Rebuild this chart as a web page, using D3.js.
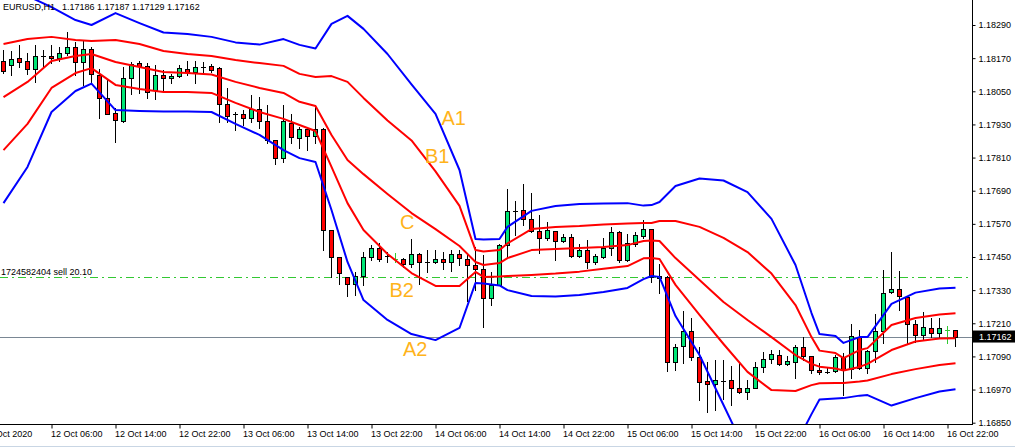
<!DOCTYPE html>
<html><head><meta charset="utf-8">
<script src="https://cdn.jsdelivr.net/npm/d3@7"></script>
<style>html,body{margin:0;padding:0;background:#fff;}svg{display:block;}</style>
</head><body><svg id="chart" width="1015" height="448"></svg>
<script>
// ---------- data ----------
const symbolTitle = "EURUSD,H1";
const lastQuote = "1.17186 1.17187 1.17129 1.17162";
const barOpen = [1.18160,1.18144,1.18169,1.18160,1.18129,1.18178,1.18178,1.18169,1.18189,1.18210,
1.18157,1.18202,1.18109,1.18026,1.17970,1.17941,1.18097,1.18151,1.18143,1.18055,
1.18109,1.18097,1.18105,1.18131,1.18121,1.18139,1.18142,1.18133,1.18004,1.17967,
1.17967,1.17952,1.17985,1.17944,1.17872,1.17807,1.17934,1.17880,1.17912,1.17888,
1.17912,1.17548,1.17449,1.17379,1.17351,1.17381,1.17451,1.17481,1.17453,1.17442,
1.17442,1.17424,1.17460,1.17433,1.17433,1.17442,1.17431,1.17460,1.17442,1.17420,
1.17407,1.17303,1.17349,1.17493,1.17617,1.17620,1.17586,1.17545,1.17518,1.17544,
1.17509,1.17521,1.17455,1.17475,1.17431,1.17449,1.17481,1.17539,1.17439,1.17497,
1.17527,1.17550,1.17373,1.17379,1.17069,1.17128,1.17183,1.17089,1.17001,1.16990,
1.17002,1.17005,1.16977,1.16960,1.16977,1.17053,1.17080,1.17094,1.17061,1.17069,
1.17125,1.17093,1.17040,1.17035,1.17037,1.17089,1.17043,1.17161,1.17049,1.17110,
1.17183,1.17322,1.17333,1.17304,1.17207,1.17166,1.17192,1.17174,1.17186,1.17186];
const barHigh = [1.18199,1.18196,1.18218,1.18188,1.18218,1.18201,1.18218,1.18209,1.18266,1.18230,
1.18232,1.18211,1.18130,1.18093,1.17988,1.18139,1.18157,1.18160,1.18152,1.18145,
1.18127,1.18113,1.18145,1.18160,1.18160,1.18157,1.18149,1.18139,1.18062,1.17975,
1.17982,1.18037,1.18030,1.18000,1.17874,1.18000,1.17968,1.17922,1.17922,1.17994,
1.17917,1.17548,1.17449,1.17379,1.17396,1.17468,1.17493,1.17499,1.17469,1.17466,
1.17445,1.17514,1.17463,1.17475,1.17475,1.17469,1.17475,1.17477,1.17463,1.17486,
1.17457,1.17397,1.17497,1.17696,1.17653,1.17713,1.17683,1.17602,1.17576,1.17545,
1.17533,1.17532,1.17497,1.17511,1.17461,1.17518,1.17560,1.17544,1.17532,1.17541,
1.17584,1.17551,1.17426,1.17381,1.17134,1.17255,1.17228,1.17125,1.17071,1.17077,
1.17077,1.17055,1.17071,1.17005,1.17069,1.17105,1.17113,1.17113,1.17091,1.17131,
1.17161,1.17093,1.17065,1.17047,1.17095,1.17103,1.17207,1.17186,1.17113,1.17244,
1.17403,1.17469,1.17400,1.17304,1.17222,1.17252,1.17228,1.17228,1.17201,1.17187];
const barLow = [1.18118,1.18109,1.18139,1.18113,1.18085,1.18139,1.18151,1.18160,1.18180,1.18109,
1.18073,1.18076,1.17952,1.17968,1.17867,1.17940,1.18040,1.18044,1.18026,1.18022,
1.18052,1.18080,1.18102,1.18109,1.18080,1.18121,1.18121,1.17940,1.17940,1.17910,
1.17928,1.17940,1.17916,1.17863,1.17787,1.17795,1.17862,1.17845,1.17837,1.17863,
1.17475,1.17379,1.17352,1.17307,1.17314,1.17350,1.17439,1.17435,1.17431,1.17433,
1.17415,1.17415,1.17354,1.17394,1.17427,1.17405,1.17400,1.17421,1.17292,1.17330,
1.17198,1.17276,1.17347,1.17449,1.17530,1.17566,1.17541,1.17463,1.17511,1.17439,
1.17505,1.17451,1.17449,1.17409,1.17425,1.17447,1.17457,1.17431,1.17437,1.17490,
1.17518,1.17361,1.17319,1.17038,1.17041,1.17065,1.17077,1.16932,1.16890,1.16896,
1.16935,1.16914,1.16956,1.16935,1.16975,1.17032,1.17065,1.17059,1.17059,1.17011,
1.17077,1.17029,1.17025,1.17029,1.17035,1.16950,1.17011,1.17043,1.17031,1.17071,
1.17137,1.17320,1.17258,1.17140,1.17143,1.17149,1.17161,1.17159,1.17137,1.17129];
const barClose = [1.18125,1.18166,1.18157,1.18129,1.18178,1.18178,1.18169,1.18189,1.18210,1.18157,
1.18202,1.18111,1.18027,1.17969,1.17945,1.18097,1.18148,1.18143,1.18048,1.18109,
1.18097,1.18105,1.18133,1.18121,1.18139,1.18139,1.18127,1.18004,1.17961,1.17967,
1.17952,1.17985,1.17944,1.17872,1.17807,1.17944,1.17886,1.17912,1.17888,1.17912,
1.17548,1.17449,1.17391,1.17351,1.17381,1.17451,1.17481,1.17442,1.17453,1.17442,
1.17424,1.17460,1.17433,1.17433,1.17442,1.17431,1.17460,1.17445,1.17421,1.17407,
1.17303,1.17347,1.17493,1.17617,1.17617,1.17586,1.17545,1.17518,1.17548,1.17509,
1.17521,1.17455,1.17475,1.17431,1.17454,1.17481,1.17539,1.17439,1.17500,1.17530,
1.17550,1.17376,1.17381,1.17071,1.17125,1.17183,1.17087,1.16998,1.16990,1.17005,
1.17002,1.16977,1.16960,1.16977,1.17053,1.17080,1.17098,1.17061,1.17072,1.17125,
1.17091,1.17041,1.17032,1.17035,1.17089,1.17041,1.17165,1.17047,1.17110,1.17183,
1.17319,1.17333,1.17309,1.17207,1.17166,1.17195,1.17174,1.17192,1.17186,1.17162];
const greenDojiBars = [49, 118];

const bandBars = [0,3,6,9,11,14,17,20,23,26,29,32,35,37,39,41,43,45,48,51,54,57,59,60,62,63,66,69,72,75,78,80,81,82,84,87,90,93,96,99,101,102,104,105,107,108,111,114,117,119];
const outerUpper = [1.18413,1.18395,1.18355,1.18308,1.18290,1.18333,1.18297,1.18263,1.18257,1.18247,
1.18227,1.18219,1.18239,1.18218,1.18205,1.18294,1.18323,1.18276,1.18185,1.18075,
1.17968,1.17765,1.17515,1.17513,1.17515,1.17559,1.17617,1.17635,1.17642,1.17644,
1.17645,1.17636,1.17638,1.17649,1.17707,1.17734,1.17727,1.17685,1.17588,1.17421,
1.17247,1.17171,1.17164,1.17139,1.17160,1.17160,1.17280,1.17321,1.17336,1.17339];
const innerUpper = [1.18221,1.18239,1.18247,1.18236,1.18232,1.18236,1.18221,1.18196,1.18185,1.18178,
1.18163,1.18152,1.18142,1.18113,1.18102,1.18105,1.18084,1.18026,1.17944,1.17872,
1.17760,1.17635,1.17475,1.17470,1.17475,1.17499,1.17551,1.17559,1.17562,1.17568,
1.17571,1.17573,1.17573,1.17580,1.17580,1.17559,1.17519,1.17468,1.17390,1.17276,
1.17160,1.17111,1.17102,1.17084,1.17113,1.17120,1.17204,1.17229,1.17242,1.17246];
const middleBand = [1.18029,1.18084,1.18160,1.18178,1.18185,1.18156,1.18138,1.18120,1.18116,1.18111,
1.18084,1.18062,1.18044,1.18012,1.17997,1.17892,1.17801,1.17750,1.17678,1.17609,
1.17551,1.17490,1.17432,1.17421,1.17428,1.17446,1.17475,1.17479,1.17483,1.17486,
1.17493,1.17508,1.17510,1.17508,1.17446,1.17367,1.17287,1.17222,1.17160,1.17095,
1.17063,1.17053,1.17046,1.17039,1.17052,1.17063,1.17113,1.17144,1.17155,1.17156];
const innerLower = [1.17837,1.17932,1.18062,1.18116,1.18134,1.18073,1.18058,1.18047,1.18047,1.18044,
1.18008,1.17975,1.17950,1.17928,1.17906,1.17776,1.17645,1.17548,1.17461,1.17392,
1.17345,1.17345,1.17396,1.17378,1.17379,1.17381,1.17385,1.17390,1.17397,1.17407,
1.17417,1.17445,1.17446,1.17443,1.17349,1.17240,1.17135,1.17034,1.16968,1.16965,
1.16986,1.16993,1.16994,1.16994,1.16999,1.17003,1.17026,1.17044,1.17059,1.17065];
const outerLower = [1.17645,1.17776,1.17975,1.18051,1.18078,1.17982,1.17979,1.17977,1.17977,1.17975,
1.17932,1.17892,1.17837,1.17808,1.17794,1.17620,1.17432,1.17294,1.17222,1.17171,
1.17149,1.17193,1.17356,1.17354,1.17347,1.17330,1.17309,1.17307,1.17312,1.17323,
1.17338,1.17370,1.17381,1.17378,1.17236,1.17095,1.16914,1.16733,1.16697,1.16769,
1.16881,1.16934,1.16938,1.16939,1.16948,1.16950,1.16912,1.16939,1.16963,1.16971];

const priceTicks = [1.18290,1.18170,1.18050,1.17930,1.17810,1.17690,1.17570,1.17450,1.17330,1.17210,1.17090,1.16970,1.16850];
const timeTickBars = [6,14,22,30,38,46,54,62,70,78,86,94,102,110,118];
const timeTickLabels = ["12 Oct 06:00","12 Oct 14:00","12 Oct 22:00","13 Oct 06:00","13 Oct 14:00","13 Oct 22:00","14 Oct 06:00","14 Oct 14:00","14 Oct 22:00","15 Oct 06:00","15 Oct 14:00","15 Oct 22:00","16 Oct 06:00","16 Oct 14:00","16 Oct 22:00"];
const firstDateLabel = "12 Oct 2020";
const orderPrice = 1.17377;
const orderLabel = "1724582404 sell 20.10";
const currentPrice = 1.17162;
const bandNames = ["A1","B1","C","B2","A2"];

// ---------- drawing ----------
const W = 1015, H = 448, plotR = 972, plotB = 424;
const FONT = "'Liberation Sans', Arial, sans-serif";
const svg = d3.select("#chart");
svg.append("rect").attr("width", W).attr("height", H).attr("fill", "#fff");

const x = d3.scaleLinear().domain([0, 119]).range([3.5, 955.5]);
const y = d3.scaleLinear().domain([1.16850, 1.18290]).range([422.7, 25]);
const py = v => Math.round(y(v)) + 0.5;

svg.append("defs").append("clipPath").attr("id", "plot")
  .append("rect").attr("x", 0).attr("y", 0).attr("width", plotR).attr("height", plotB);
const plot = svg.append("g").attr("clip-path", "url(#plot)");

// current price line
plot.append("line").attr("x1", 0).attr("x2", plotR).attr("y1", py(currentPrice)).attr("y2", py(currentPrice))
  .attr("stroke", "#7a8794").attr("stroke-width", 1);
// order line
plot.append("line").attr("x1", 0).attr("x2", plotR).attr("y1", py(orderPrice)).attr("y2", py(orderPrice))
  .attr("stroke", "#32c832").attr("stroke-width", 1).attr("stroke-dasharray", "8,4,2,4");

// candles
const bars = d3.range(barOpen.length).map(i => ({i, o: barOpen[i], h: barHigh[i], l: barLow[i], c: barClose[i]}));
const cg = plot.append("g");
bars.forEach(b => {
  const cx = x(b.i);
  const green = greenDojiBars.includes(b.i);
  cg.append("line").attr("x1", cx).attr("x2", cx).attr("y1", py(b.h) - 0.5).attr("y2", py(b.l) + 0.5)
    .attr("stroke", green ? "#32c832" : "#000").attr("stroke-width", 1);
  if (b.o === b.c) {
    cg.append("line").attr("x1", cx - 2.5).attr("x2", cx + 2.5).attr("y1", py(b.o)).attr("y2", py(b.o))
      .attr("stroke", green ? "#32c832" : "#000").attr("stroke-width", 1);
  } else {
    const top = py(Math.max(b.o, b.c)), bot = py(Math.min(b.o, b.c));
    cg.append("rect").attr("x", cx - 2).attr("y", top).attr("width", 4).attr("height", Math.max(1, bot - top))
      .attr("fill", b.c > b.o ? "#00e676" : "#ff0000").attr("stroke", "#000").attr("stroke-width", 1);
  }
});

// bands
const bandSeries = [
  {v: outerUpper, color: "#0000ff"},
  {v: innerUpper, color: "#ff0000"},
  {v: middleBand, color: "#ff0000"},
  {v: innerLower, color: "#ff0000"},
  {v: outerLower, color: "#0000ff"}
];
const line = d3.line().x(d => x(d[0])).y(d => y(d[1]));
bandSeries.forEach(s => {
  plot.append("path").datum(bandBars.map((b, k) => [b, s.v[k]]))
    .attr("d", line).attr("fill", "none").attr("stroke", s.color).attr("stroke-width", 2)
    .attr("stroke-linejoin", "round");
});

// band annotations
const annPos = [[441.5,125],[425,162.5],[400,228.5],[389.5,296.5],[403,356]];
bandNames.forEach((t, k) => {
  svg.append("text").attr("x", annPos[k][0]).attr("y", annPos[k][1]).text(t)
    .attr("font-family", FONT).attr("font-size", 20).attr("fill", "#ffb31a");
});

// header and order label
svg.append("text").attr("x", 3).attr("y", 10).text(symbolTitle)
  .attr("font-family", FONT).attr("font-size", 9).attr("fill", "#000");
svg.append("text").attr("x", 62).attr("y", 10).text(lastQuote)
  .attr("font-family", FONT).attr("font-size", 9).attr("fill", "#000");
svg.append("text").attr("x", 1).attr("y", py(orderPrice) - 3).text(orderLabel)
  .attr("font-family", FONT).attr("font-size", 9).attr("fill", "#000");

// right axis
const ya = svg.append("g").attr("transform", `translate(${plotR + 0.5},0)`)
  .call(d3.axisRight(y).tickValues(priceTicks).tickSize(3).tickPadding(3).tickFormat(d3.format(".5f")));
ya.select(".domain").remove();
ya.selectAll("text").attr("font-family", FONT).attr("font-size", 9).attr("fill", "#000");
ya.selectAll("line").attr("stroke", "#000");
svg.append("line").attr("x1", plotR + 0.5).attr("x2", plotR + 0.5).attr("y1", 0).attr("y2", plotB + 1).attr("stroke", "#000");

// current price box
svg.append("rect").attr("x", plotR + 1).attr("y", y(currentPrice) - 6).attr("width", W - plotR - 1).attr("height", 12).attr("fill", "#000");
svg.append("text").attr("x", 979).attr("y", y(currentPrice)).attr("dy", "0.35em").text(d3.format(".5f")(currentPrice))
  .attr("font-family", FONT).attr("font-size", 9).attr("fill", "#fff");

// bottom axis
const xa = svg.append("g").attr("transform", `translate(0,${plotB + 0.5})`)
  .call(d3.axisBottom(x).tickValues(timeTickBars).tickSize(4).tickFormat((d, k) => timeTickLabels[k]));
xa.select(".domain").remove();
xa.selectAll("line").attr("stroke", "#000");
xa.selectAll("text").attr("font-family", FONT).attr("font-size", 9).attr("fill", "#000")
  .attr("text-anchor", "start").attr("dx", -1).attr("y", 6).attr("dy", "0.71em");
svg.append("line").attr("x1", 0).attr("x2", plotR + 1).attr("y1", plotB + 0.5).attr("y2", plotB + 0.5).attr("stroke", "#000");
svg.append("text").attr("x", 32.3).attr("y", 437).attr("text-anchor", "end").text(firstDateLabel)
  .attr("font-family", FONT).attr("font-size", 9).attr("fill", "#000");
svg.append("line").attr("x1", 0).attr("x2", W).attr("y1", 446.5).attr("y2", 446.5).attr("stroke", "#c9d6e4");
</script></body></html>
